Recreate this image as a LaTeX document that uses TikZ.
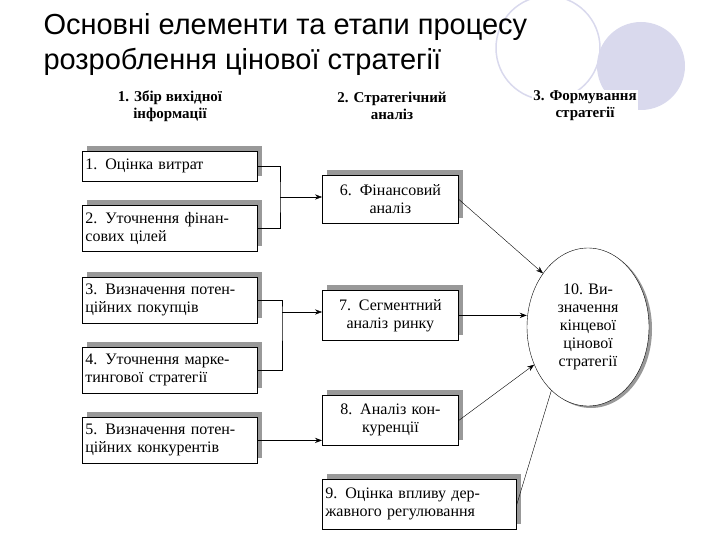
\documentclass[tikz,border=0pt]{standalone}
\usepackage{fontspec}
\setmainfont{Liberation Serif}
\newfontfamily\titlefont{Liberation Sans}
\usetikzlibrary{shadows,positioning,arrows.meta,shapes.geometric}
\begin{document}
\begin{tikzpicture}[x=1pt,y=-1pt,
    stepbox/.style={draw,thick,fill=white,anchor=north west,align=left,
      inner sep=3pt,font=\fontsize{16}{18}\selectfont,
      drop shadow={shadow xshift=5pt,shadow yshift=5pt,fill=gray!80,opacity=1}},
    head/.style={font=\bfseries\fontsize{15}{17}\selectfont,align=center},
    link/.style={-{Stealth[length=7pt]}}]

  \definecolor{decocol}{rgb}{0.85,0.85,0.93}

  \useasboundingbox (0,0) rectangle (720,540);

  % background decoration
  \fill[decocol] (641,66) circle (44);
  \draw[decocol,line width=1.5pt] (548,48) circle (52);

  % title
  \node[anchor=north west,font=\titlefont\fontsize{29}{35}\selectfont,align=left] (title)
    at (40,10) {Основні елементи та етапи процесу\\розроблення цінової стратегії};

  % stage heads
  \node[head] (h1) at (170,106) {1. Збір вихідної\\інформації};
  \node[head] (h2) at (392,106) {2. Стратегічний\\аналіз};
  \node[head,fill=white,inner sep=1pt] (h3) at (585,106) {3. Формування\\стратегії};

  % stage 1
  \node[stepbox,text width=169pt,minimum height=30pt] (b1) at (82,151) {1. Оцінка витрат};
  \node[stepbox,text width=169pt,minimum height=46pt] (b2) at (82,205) {2. Уточнення фінан-\\сових цілей};
  \node[stepbox,text width=169pt,minimum height=46pt] (b3) at (82,277) {3. Визначення потен-\\ційних покупців};
  \node[stepbox,text width=169pt,minimum height=46pt] (b4) at (82,347) {4. Уточнення марке-\\тингової стратегії};
  \node[stepbox,text width=169pt,minimum height=46pt] (b5) at (82,417) {5. Визначення потен-\\ційних конкурентів};

  % stage 2
  \node[stepbox,text width=130pt,minimum height=48pt,align=center] (b6) at (322,175) {6. Фінансовий\\аналіз};
  \node[stepbox,text width=130pt,minimum height=50pt,align=center] (b7) at (322,290) {7. Сегментний\\аналіз ринку};
  \node[stepbox,text width=130pt,minimum height=50pt,align=center] (b8) at (322,395) {8. Аналіз кон-\\куренції};
  \node[stepbox,text width=188pt,minimum height=50pt] (b9) at (322,479) {9. Оцінка впливу дер-\\жавного регулювання};

  % stage 3
  \node[draw,ellipse,minimum width=122pt,minimum height=158pt,align=center,
    font=\fontsize{16}{18}\selectfont,fill=white,inner sep=0pt,
    drop shadow={shadow xshift=3pt,shadow yshift=-2pt,fill=gray!80,opacity=1}] (b10)
    at (588,327) {10. Ви-\\значення\\кінцевої\\цінової\\стратегії};

  \coordinate (k1) at (280,197);
  \coordinate (k2) at (282,312);

  \draw[thick] (b1.east) -| (k1) |- (b2.east);
  \draw[link] (k1) -- (k1 -| b6.west);
  \draw[thick] (b3.east) -| (k2) |- (b4.east);
  \draw[link] (k2) -- (k2 -| b7.west);
  \draw[link,thick] (b5.east) -- (b5.east -| b8.west);

  \draw[link] (b6.east) -- (b10.130);
  \draw[link,thick] (b7.east) -- (b7.east -| b10.west);
  \draw[link] (b8.east) -- (b10.215);
  \draw (b9.east) -- (b10.240);
\end{tikzpicture}
\end{document}
